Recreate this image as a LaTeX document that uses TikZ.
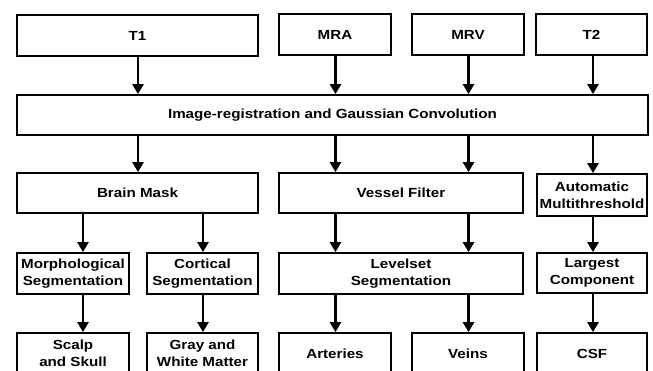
\documentclass[tikz,border=0pt]{standalone}
\usepackage{fontspec}
\setmainfont[FakeStretch=1.15]{Liberation Sans}
\usetikzlibrary{arrows.meta}
\begin{document}
\begin{tikzpicture}[x=1pt,y=-1pt,
  box/.style={draw=black,line width=1.8pt,fill=white,inner sep=0pt,align=center,
    font=\fontsize{13.2}{17}\selectfont\bfseries},
  arr/.style={line width=2.8pt,-{Triangle[width=11pt,length=10pt]}}]
\useasboundingbox (0,0) rectangle (653,370);
\clip (0,0) rectangle (653,370);
\fill[white] (0,0) rectangle (653,370);
% row 1
\node[box,minimum width=241pt,minimum height=41pt] (t1) at (137.5,35.5) {T1};
\node[box,minimum width=112pt,minimum height=41pt] (mra) at (335,34.5) {MRA};
\node[box,minimum width=112pt,minimum height=41pt] (mrv) at (468,34.5) {MRV};
\node[box,minimum width=111pt,minimum height=41pt] (t2) at (591.5,34.5) {T2};
% row 2
\node[box,minimum width=631pt,minimum height=40pt] (reg) at (332.5,115) {Image-registration and Gaussian Convolution};
% row 3
\node[box,minimum width=241pt,minimum height=40pt] (bm) at (137.5,193) {Brain Mask};
\node[box,minimum width=244pt,minimum height=40pt] (vf) at (401,193) {Vessel Filter};
\node[box,minimum width=110pt,minimum height=42pt] (auto) at (592,195) {Automatic\\Multithreshold};
% row 4
\node[box,minimum width=112pt,minimum height=41pt] (morph) at (73,273.5) {Morphological\\Segmentation};
\node[box,minimum width=111pt,minimum height=41pt] (cort) at (202.5,273.5) {Cortical\\Segmentation};
\node[box,minimum width=244pt,minimum height=41pt] (lev) at (401,273.5) {Levelset\\Segmentation};
\node[box,minimum width=110pt,minimum height=40pt] (large) at (592,273) {Largest\\Component};
% row 5
\node[box,minimum width=112pt,minimum height=41pt] (scalp) at (73,353.5) {Scalp\\and Skull};
\node[box,minimum width=111pt,minimum height=41pt] (gray) at (202.5,353.5) {Gray and\\White Matter};
\node[box,minimum width=112pt,minimum height=41pt] (art) at (335,353.5) {Arteries};
\node[box,minimum width=112pt,minimum height=41pt] (veins) at (468,353.5) {Veins};
\node[box,minimum width=110pt,minimum height=41pt] (csf) at (592,353.5) {CSF};
% arrow columns
\coordinate (xa) at (138,0);
\coordinate (xb) at (335.5,0);
\coordinate (xc) at (468.5,0);
\coordinate (xd) at (593,0);
\coordinate (xe) at (83,0);
\coordinate (xf) at (203,0);
% arrows
\draw[arr] (t1.south -| xa) -- (reg.north -| xa);
\draw[arr] (mra.south -| xb) -- (reg.north -| xb);
\draw[arr] (mrv.south -| xc) -- (reg.north -| xc);
\draw[arr] (t2.south -| xd) -- (reg.north -| xd);
\draw[arr] (reg.south -| xa) -- (bm.north -| xa);
\draw[arr] (reg.south -| xb) -- (vf.north -| xb);
\draw[arr] (reg.south -| xc) -- (vf.north -| xc);
\draw[arr] (reg.south -| xd) -- (auto.north -| xd);
\draw[arr] (bm.south -| xe) -- (morph.north -| xe);
\draw[arr] (bm.south -| xf) -- (cort.north -| xf);
\draw[arr] (vf.south -| xb) -- (lev.north -| xb);
\draw[arr] (vf.south -| xc) -- (lev.north -| xc);
\draw[arr] (auto.south -| xd) -- (large.north -| xd);
\draw[arr] (morph.south -| xe) -- (scalp.north -| xe);
\draw[arr] (cort.south -| xf) -- (gray.north -| xf);
\draw[arr] (lev.south -| xb) -- (art.north -| xb);
\draw[arr] (lev.south -| xc) -- (veins.north -| xc);
\draw[arr] (large.south -| xd) -- (csf.north -| xd);
\end{tikzpicture}
\end{document}
